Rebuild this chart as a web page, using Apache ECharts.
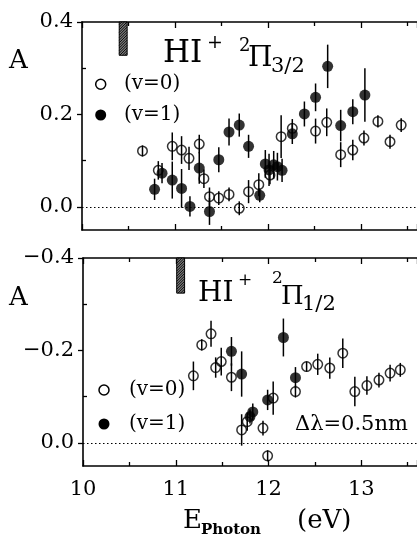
<!DOCTYPE html>
<html><head><meta charset="utf-8">
<script src="https://cdn.jsdelivr.net/npm/echarts@6/dist/echarts.min.js"></script>
<style>html,body{margin:0;padding:0;background:#fff}#c{width:417px;height:542px}</style>
</head><body><div id="c"></div>
<script>
// ---------- data ----------
const xTickLabels = [10, 11, 12, 13];
const topYTicks = [0, 0.2, 0.4];
const topYMinor = [0.1, 0.3];
const botYTicks = [-0.4, -0.2, 0];
const botYMinor = [-0.3, -0.1];

// upper panel: HI+ 2Pi3/2
const top_v0_E   = [10.65,10.82,10.97,11.07,11.15,11.26,11.31,11.37,11.47,11.58,11.69,11.79,11.90,12.02,12.14,12.26,12.51,12.63,12.78,12.91,13.03,13.18,13.31,13.43];
const top_v0_A   = [0.121,0.079,0.131,0.123,0.105,0.136,0.061,0.022,0.019,0.027,-0.003,0.033,0.048,0.069,0.152,0.170,0.164,0.183,0.113,0.123,0.149,0.185,0.141,0.177];
const top_v0_err = [0.012,0.020,0.030,0.030,0.025,0.020,0.020,0.020,0.015,0.015,0.015,0.025,0.025,0.020,0.046,0.020,0.027,0.030,0.027,0.022,0.016,0.013,0.015,0.015];

const top_v1_E   = [10.78,10.86,10.97,11.07,11.16,11.26,11.37,11.47,11.58,11.69,11.79,11.91,11.97,12.01,12.06,12.10,12.15,12.26,12.39,12.51,12.64,12.78,12.91,13.04];
const top_v1_A   = [0.038,0.073,0.058,0.040,0.001,0.084,-0.010,0.102,0.162,0.177,0.131,0.025,0.093,0.080,0.091,0.087,0.079,0.158,0.201,0.237,0.304,0.176,0.206,0.242];
const top_v1_err = [0.023,0.022,0.040,0.042,0.022,0.034,0.029,0.027,0.029,0.025,0.025,0.015,0.030,0.035,0.030,0.030,0.025,0.022,0.027,0.030,0.047,0.034,0.027,0.058];

// lower panel: HI+ 2Pi1/2
const bot_v0_E   = [11.19,11.28,11.38,11.43,11.49,11.60,11.71,11.77,11.94,11.99,12.05,12.29,12.41,12.53,12.66,12.80,12.93,13.06,13.19,13.31,13.42];
const bot_v0_A   = [-0.145,-0.212,-0.236,-0.163,-0.176,-0.142,-0.028,-0.046,-0.032,0.028,-0.097,-0.111,-0.165,-0.170,-0.162,-0.194,-0.111,-0.124,-0.136,-0.151,-0.158];
const bot_v0_err = [0.031,0.012,0.028,0.022,0.030,0.030,0.034,0.020,0.016,0.012,0.036,0.013,0.011,0.023,0.023,0.032,0.032,0.020,0.016,0.018,0.015];

const bot_v1_E   = [11.60,11.71,11.80,11.83,11.99,12.16,12.29];
const bot_v1_A   = [-0.198,-0.149,-0.057,-0.067,-0.093,-0.228,-0.141];
const bot_v1_err = [0.031,0.049,0.015,0.018,0.022,0.041,0.023];

// threshold markers (E from, E to, A from, A to)
const topThreshold = [[10.40, 10.485, 0.4, 0.328]];
const botThreshold = [[11.01, 11.095, -0.4, -0.324]];

// ---------- build ----------
const pts = (E, A) => E.map((e, i) => [e, A[i]]);
const errs = (E, A, S) => E.map((e, i) => [e, A[i] - S[i], A[i] + S[i]]);

const FONT = 'DejaVu Serif';
const BLACK = '#000';
const axisLineStyle = { color: BLACK, width: 1.6 };
const tickLS = { color: BLACK, width: 1.3 };

function xAxisDef(grid, pos, labels) {
  return {
    type: 'value', gridIndex: grid, position: pos, min: 10, max: 13.6, interval: 1,
    axisLine: { show: true, onZero: false, lineStyle: axisLineStyle },
    axisTick: { show: true, inside: true, length: 6, lineStyle: tickLS },
    minorTick: { show: true, splitNumber: 2, length: 4, lineStyle: tickLS },
    axisLabel: labels ? {
      show: true, customValues: xTickLabels, color: BLACK, fontFamily: FONT, fontSize: 21, margin: 13,
      formatter: v => String(v)
    } : { show: false },
    splitLine: { show: false }, minorSplitLine: { show: false }
  };
}
function yAxisMain(grid, min, max, inverse, ticks) {
  return {
    type: 'value', gridIndex: grid, position: 'left', min, max, inverse,
    axisLine: { show: true, onZero: false, lineStyle: axisLineStyle },
    axisTick: { show: true, inside: false, length: 5, customValues: ticks, lineStyle: tickLS },
    axisLabel: {
      show: true, customValues: ticks, color: BLACK, fontFamily: FONT, fontSize: 21, margin: 9,
      formatter: v => (v < 0 ? '\u2212' : '') + Math.abs(v).toFixed(1)
    },
    splitLine: { show: false }
  };
}
function yAxisMinor(grid, min, max, inverse, ticks) {
  return {
    type: 'value', gridIndex: grid, position: 'left', offset: 0, min, max, inverse,
    axisLine: { show: false },
    axisTick: { show: true, inside: true, length: 4, customValues: ticks, lineStyle: tickLS },
    axisLabel: { show: false }, splitLine: { show: false }
  };
}

function errSeries(xi, yi, data) {
  return {
    type: 'custom', xAxisIndex: xi, yAxisIndex: yi, data, silent: true,
    encode: { x: 0, y: [1, 2] },
    renderItem: (params, api) => {
      const a = api.coord([api.value(0), api.value(1)]);
      const b = api.coord([api.value(0), api.value(2)]);
      return { type: 'line', shape: { x1: a[0], y1: a[1], x2: b[0], y2: b[1] },
               style: { stroke: BLACK, lineWidth: 1.5 } };
    }
  };
}
function hatchSeries(xi, yi, data) {
  return {
    type: 'custom', xAxisIndex: xi, yAxisIndex: yi, data, silent: true,
    encode: { x: [0, 1], y: [2, 3] },
    renderItem: (params, api) => {
      const p1 = api.coord([api.value(0), api.value(2)]);
      const p2 = api.coord([api.value(1), api.value(3)]);
      const x = Math.min(p1[0], p2[0]), y = Math.min(p1[1], p2[1]);
      const w = Math.abs(p2[0] - p1[0]), h = Math.abs(p2[1] - p1[1]);
      const children = [{ type: 'rect', shape: { x, y, width: w, height: h },
        style: { fill: '#777', stroke: BLACK, lineWidth: 1 } }];
      for (let k = -w; k < h; k += 2.6) {
        let xa = x, ya = y + k + w, xb = x + w, yb = y + k;
        if (ya > y + h) { xa += ya - (y + h); ya = y + h; }
        if (yb < y) { xb -= y - yb; yb = y; }
        if (xb > xa) children.push({ type: 'line', shape: { x1: xa, y1: ya, x2: xb, y2: yb },
          style: { stroke: BLACK, lineWidth: 0.9 } });
      }
      return { type: 'group', children };
    }
  };
}
const zeroLine = {
  silent: true, symbol: 'none', label: { show: false },
  lineStyle: { type: [1.5, 2.5], color: BLACK, width: 1.2 },
  emphasis: { disabled: true }, data: [{ yAxis: 0 }]
};
function openSeries(xi, yi, data, name) {
  return { type: 'scatter', name, xAxisIndex: xi, yAxisIndex: yi, data, symbol: 'circle', symbolSize: 9.5,
    itemStyle: { color: 'rgba(255,255,255,0)', borderColor: BLACK, borderWidth: 1.5 },
    markLine: zeroLine, z: 3 };
}
function fillSeries(xi, yi, data, name) {
  return { type: 'scatter', name, xAxisIndex: xi, yAxisIndex: yi, data, symbol: 'circle', symbolSize: 11,
    itemStyle: { color: BLACK }, z: 3 };
}
function txt(x, y, text, size, weight) {
  return { type: 'text', x, y, silent: true,
    style: { text, fill: BLACK, font: (weight || 'normal') + ' ' + size + 'px "' + FONT + '"',
             textAlign: 'left', textVerticalAlign: 'middle' } };
}
function circ(cx, cy, r, filled) {
  return { type: 'circle', silent: true, shape: { cx, cy, r },
    style: filled ? { fill: BLACK } : { fill: 'none', stroke: BLACK, lineWidth: 1.5 } };
}

const option = {
  backgroundColor: '#fff',
  animation: false,
  grid: [
    { left: 82, top: 22, width: 353, height: 208, containLabel: false },
    { left: 83, top: 258, width: 353, height: 208, containLabel: false }
  ],
  xAxis: [
    xAxisDef(0, 'bottom', false), xAxisDef(0, 'top', false),
    xAxisDef(1, 'bottom', true), xAxisDef(1, 'top', false)
  ],
  yAxis: [
    yAxisMain(0, -0.05, 0.4, false, topYTicks), yAxisMinor(0, -0.05, 0.4, false, topYMinor),
    yAxisMain(1, -0.4, 0.05, true, botYTicks), yAxisMinor(1, -0.4, 0.05, true, botYMinor)
  ],
  series: [
    hatchSeries(0, 0, topThreshold),
    hatchSeries(2, 2, botThreshold),
    errSeries(0, 0, errs(top_v0_E, top_v0_A, top_v0_err)),
    errSeries(0, 0, errs(top_v1_E, top_v1_A, top_v1_err)),
    errSeries(2, 2, errs(bot_v0_E, bot_v0_A, bot_v0_err)),
    errSeries(2, 2, errs(bot_v1_E, bot_v1_A, bot_v1_err)),
    openSeries(0, 0, pts(top_v0_E, top_v0_A), '(v=0)'),
    fillSeries(0, 0, pts(top_v1_E, top_v1_A), '(v=1)'),
    openSeries(2, 2, pts(bot_v0_E, bot_v0_A), '(v=0)'),
    fillSeries(2, 2, pts(bot_v1_E, bot_v1_A), '(v=1)')
  ],
  graphic: [
    // axis names
    txt(9, 61, 'A', 26), txt(9, 298, 'A', 26),
    txt(183, 521, 'E', 26), txt(201, 530, 'Photon', 15, 'bold'), txt(297, 521, '(eV)', 26),
    // top panel title
    txt(163, 54, 'HI', 31), txt(207, 43, '+', 19),
    txt(239, 46, '2', 18), txt(248, 59, '\u03A0', 28), txt(271, 67, '3/2', 21),
    // bottom panel title
    txt(198, 294, 'HI', 28), txt(238, 281, '+', 17),
    txt(272, 279, '2', 17), txt(281, 297, '\u03A0', 26), txt(302, 305, '1/2', 21),
    // legends
    circ(100.7, 84.3, 5, false), txt(124, 84, '(v=0)', 20),
    circ(100.7, 115, 5.5, true), txt(124, 115, '(v=1)', 20),
    circ(104, 390, 5, false), txt(129, 390, '(v=0)', 20),
    circ(104, 424, 5.5, true), txt(129, 424, '(v=1)', 20),
    txt(295, 425, '\u0394\u03BB=0.5nm', 21)
  ]
};
const chart = echarts.init(document.getElementById('c'), null, { renderer: 'canvas' });
chart.setOption(option);
</script></body></html>
